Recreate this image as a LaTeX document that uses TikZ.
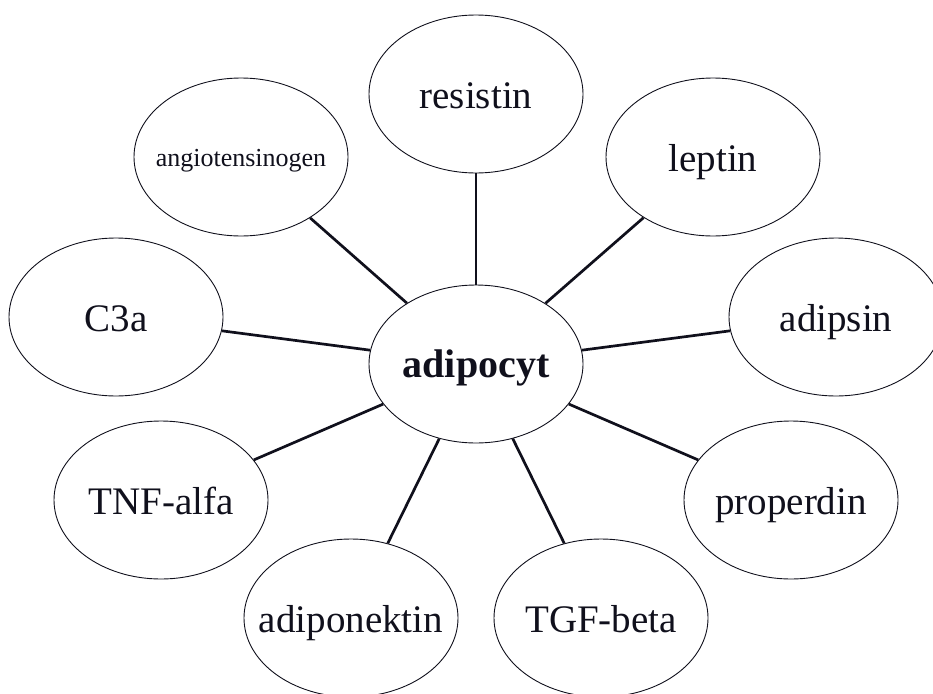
\documentclass[tikz,border=0pt]{standalone}
\usepackage{fontspec}
\setmainfont{Liberation Serif}
\usetikzlibrary{shapes.geometric}
\definecolor{ink}{HTML}{10101C}
\begin{document}
\begin{tikzpicture}[x=1pt,y=-1pt,
  oval/.style={ellipse,draw=ink,line width=0.9pt,minimum width=214pt,minimum height=158pt,inner sep=0pt},
  bub/.style={oval,label={[font=\fontsize{39}{41}\selectfont,text=ink,text height=28pt,text depth=0pt,inner sep=0pt]center:#1}},
  smallbub/.style={oval,label={[font=\fontsize{26}{28}\selectfont,text=ink,text height=18pt,text depth=0pt,inner sep=0pt]center:#1}},
  link/.style={draw=ink,line width=2.7pt}]
\useasboundingbox (0,0) rectangle (933,693);
\node[oval,label={[font=\fontsize{40}{42}\selectfont\bfseries,text=ink,text height=26pt,text depth=0pt,inner sep=0pt]center:adipocyt}] (c) at (476,364) {};
\node[bub=resistin] (res) at (476,94) {};
\node[bub=leptin] (lep) at (713,157) {};
\node[bub=adipsin] (adi) at (836,317) {};
\node[bub=properdin] (pro) at (791,500) {};
\node[bub=TGF-beta] (tgf) at (601,618) {};
\node[bub=adiponektin] (apk) at (351,618) {};
\node[bub=TNF-alfa] (tnf) at (161,500) {};
\node[bub=C3a] (c3a) at (116,317) {};
\node[smallbub=angiotensinogen] (ang) at (241,157) {};
\foreach \n in {res,lep,adi,pro,tgf,apk,tnf,c3a,ang}
  \draw[link] (c) -- (\n);
\end{tikzpicture}
\end{document}
